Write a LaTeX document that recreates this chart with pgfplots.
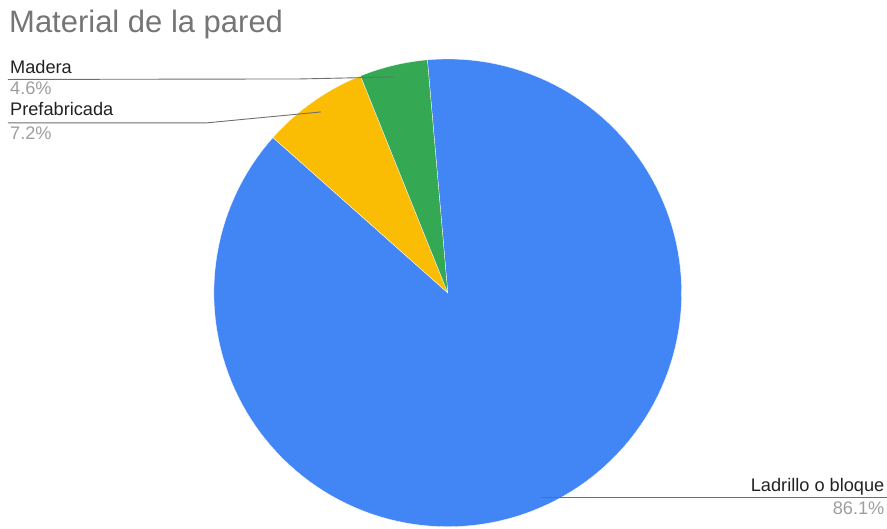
\documentclass[border=0pt]{standalone}
\usepackage{fontspec}
\setmainfont{Liberation Sans}
\usepackage{pgfplots}
\pgfplotsset{compat=1.18}
\definecolor{gBlue}{HTML}{4285F4}
\definecolor{gYellow}{HTML}{FBBC04}
\definecolor{gGreen}{HTML}{34A853}
\definecolor{titleGray}{HTML}{757575}
\definecolor{labGray}{HTML}{222222}
\definecolor{pctGray}{HTML}{9E9E9E}
\definecolor{lineGray}{HTML}{6E6E6E}
% slice values (percent)
\def\vLad{86.1}
\def\vPre{7.2}
\def\vMad{4.6}
\pgfmathsetmacro\tot{\vLad+\vPre+\vMad}
\pgfmathsetmacro\aA{95}
\pgfmathsetmacro\aB{\aA+360*\vMad/\tot}
\pgfmathsetmacro\aC{\aB+360*\vPre/\tot}
\pgfmathsetmacro\aD{\aA+360}
\begin{document}
\begin{tikzpicture}
\begin{axis}[
  scale only axis, width=887pt, height=529pt,
  xmin=0, xmax=887, ymin=0, ymax=529, y dir=reverse,
  hide axis, clip=false,
  trig format plots=deg,
]
\path (axis cs:0,0) rectangle (axis cs:887,529);
% slices
\addplot[fill=gBlue, draw=white, line width=0.3pt, domain=\aC:\aD, samples=150, variable=\t]
  ({448+234*cos(\t)}, {293-234*sin(\t)}) -- (axis cs:448,293) -- cycle;
\addplot[fill=gYellow, draw=white, line width=0.3pt, domain=\aB:\aC, samples=30, variable=\t]
  ({448+234*cos(\t)}, {293-234*sin(\t)}) -- (axis cs:448,293) -- cycle;
\addplot[fill=gGreen, draw=white, line width=0.3pt, domain=\aA:\aB, samples=30, variable=\t]
  ({448+234*cos(\t)}, {293-234*sin(\t)}) -- (axis cs:448,293) -- cycle;
% leader lines
\draw[lineGray, line width=0.9pt] (axis cs:8,79.5) -- (axis cs:300,79) -- (axis cs:394,77);
\draw[lineGray, line width=0.9pt] (axis cs:8,123) -- (axis cs:206,123) -- (axis cs:321,112);
\draw[lineGray, line width=0.9pt] (axis cs:541,498) -- (axis cs:887,498);
% texts
\node[anchor=base west, inner sep=0, text=titleGray, font=\fontsize{31}{35}\selectfont] at (axis cs:9,33) {Material de la pared};
\node[anchor=base west, inner sep=0, text=labGray, font=\fontsize{18.2}{20}\selectfont] at (axis cs:10,74) {Madera};
\node[anchor=base west, inner sep=0, text=pctGray, font=\fontsize{18.2}{20}\selectfont] at (axis cs:10,95) {4.6\%};
\node[anchor=base west, inner sep=0, text=labGray, font=\fontsize{18.2}{20}\selectfont] at (axis cs:10,116) {Prefabricada};
\node[anchor=base west, inner sep=0, text=pctGray, font=\fontsize{18.2}{20}\selectfont] at (axis cs:10,140) {7.2\%};
\node[anchor=base east, inner sep=0, text=labGray, font=\fontsize{18.2}{20}\selectfont] at (axis cs:885,492) {Ladrillo o bloque};
\node[anchor=base east, inner sep=0, text=pctGray, font=\fontsize{18.2}{20}\selectfont] at (axis cs:885,515) {86.1\%};
\end{axis}
\end{tikzpicture}
\end{document}
